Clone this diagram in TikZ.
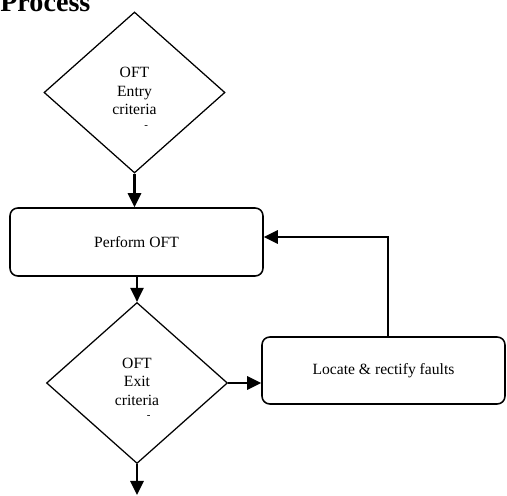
\documentclass[tikz,border=0pt]{standalone}
\usepackage{fontspec}
\setmainfont{Liberation Serif}
\usetikzlibrary{shapes.geometric,arrows.meta}
\newcommand{\px}{0.64pt}
\tikzset{
  decision/.style={diamond, draw, line width=0.8pt, inner sep=1pt,
    minimum width=181*\px, minimum height=161*\px},
  decisiontext/.style={align=center, inner sep=0pt},
  process/.style={rectangle, draw, line width=1pt, rounded corners=5pt, align=center},
  arr/.style={line width=1.4pt, -{Triangle[length=9pt,width=8.5pt]}}
}
\begin{document}
\begin{tikzpicture}[x=0.64pt, y=-0.64pt, font=\fontsize{10}{11.8}\selectfont]
\useasboundingbox (0,0) rectangle (507,496);
% title
\node[anchor=base west, inner sep=0, font=\fontsize{18}{20}\selectfont\bfseries] (title) at (0,11.5) {Process};
% decisions
\node[decision] (entry) at (134.5,92.5) {};
\node[decisiontext] (entrytext) at ([yshift=-3.5pt]entry.center) {OFT\\Entry\\criteria\\[-3pt]{\scriptsize\hspace{15pt}-}};
\node[decision] (exit) at (137,383) {};
\node[decisiontext] (exittext) at ([yshift=-3.5pt]exit.center) {OFT\\Exit\\criteria\\[-3pt]{\scriptsize\hspace{15pt}-}};
% boxes
\node[process, minimum width=253*\px, minimum height=68*\px] (perform) at (136.5,242) {Perform OFT};
\node[process, minimum width=243*\px, minimum height=67*\px] (locate) at (383.5,370.5) {Locate \& rectify faults};
\coordinate (turn) at (388,237);
\coordinate (out) at (137,495);
% connectors
\draw[arr] (entry.south) -- (entry.south |- perform.north);
\draw[arr] (exit.north |- perform.south) -- (exit.north);
\draw[arr] (exit.east) -- (locate.west |- exit.east);
\draw[arr] (locate.north -| turn) -- (turn) -- (perform.east |- turn);
\draw[arr] (exit.south) -- (out);
\end{tikzpicture}
\end{document}
